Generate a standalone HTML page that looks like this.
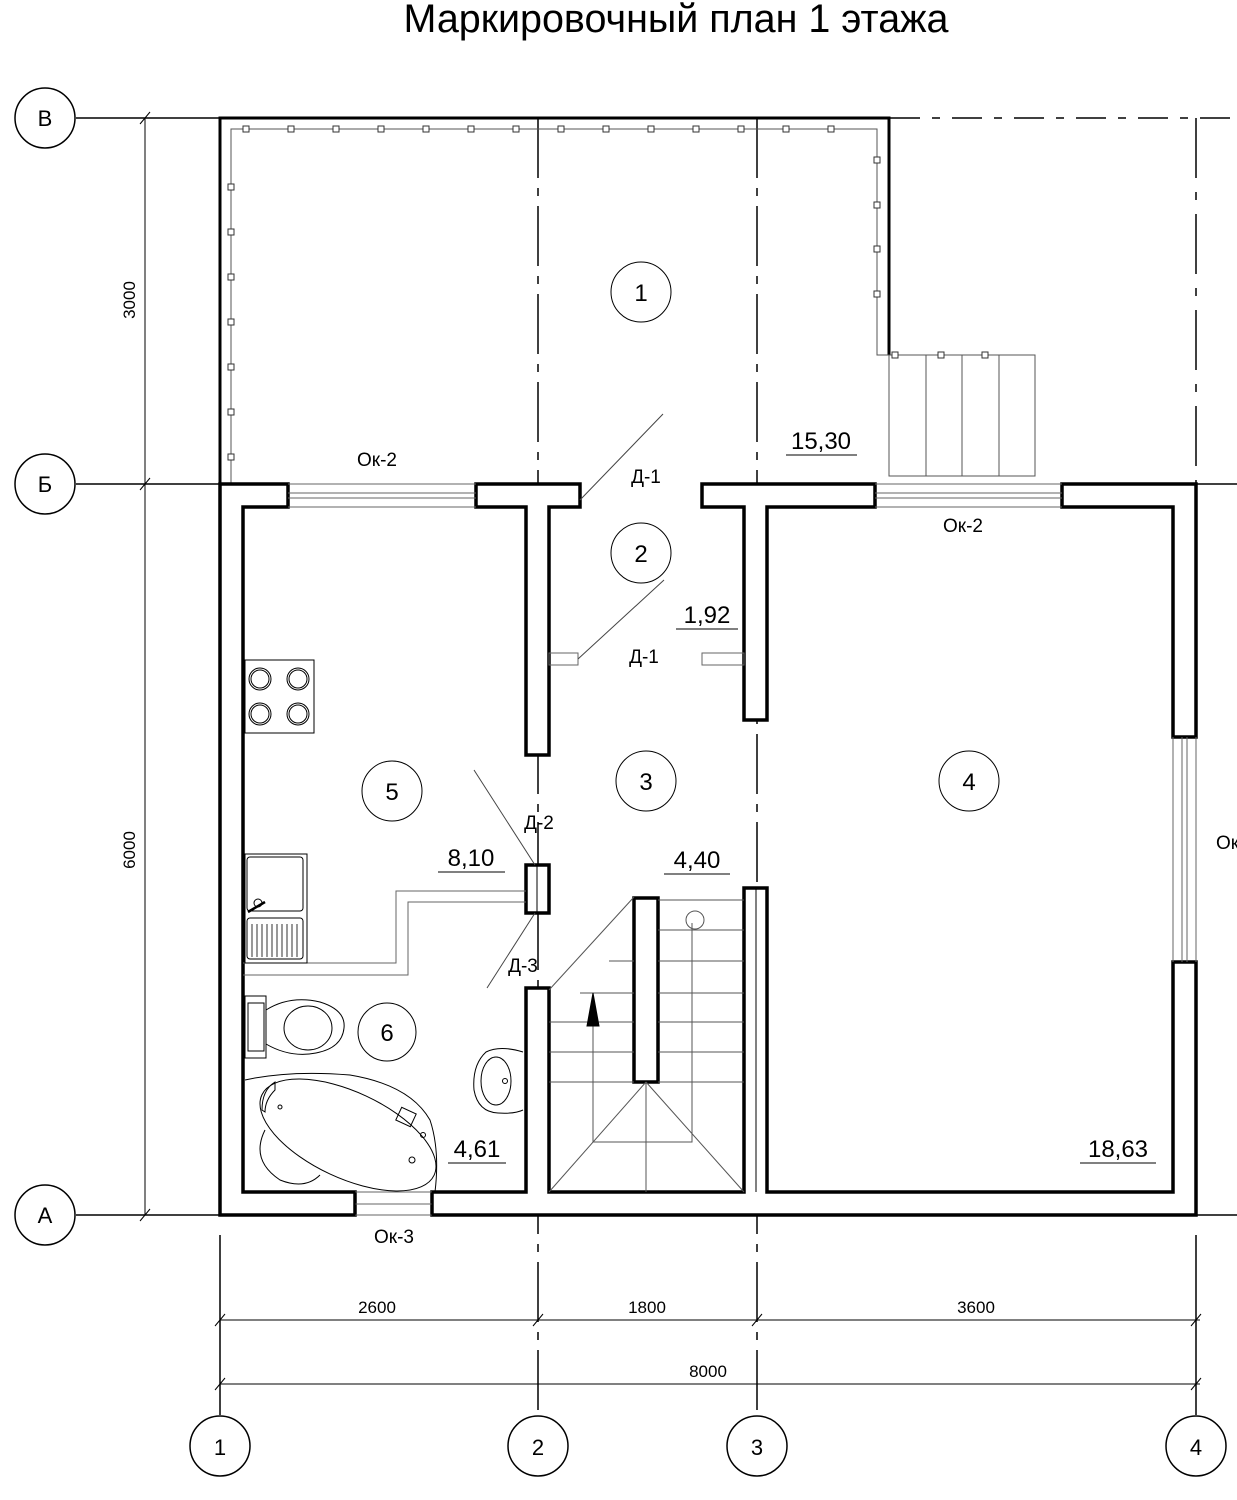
<!DOCTYPE html>
<html><head><meta charset="utf-8"><style>
html,body{margin:0;padding:0;background:#fff;}
svg{display:block}
text{font-family:"Liberation Sans Narrow","Liberation Sans",sans-serif;fill:#000}
</style></head><body>
<svg width="1237" height="1500" viewBox="0 0 1237 1500" xmlns="http://www.w3.org/2000/svg">
<text x="676" y="32" font-size="40" text-anchor="middle" textLength="545" lengthAdjust="spacingAndGlyphs">Маркировочный план 1 этажа</text>

<!-- axis lines -->
<g stroke="#000" stroke-width="1.5" fill="none">
<line x1="76" y1="118" x2="220" y2="118"/>
<line x1="890" y1="118" x2="1237" y2="118" stroke-dasharray="30,12,8,12"/>
<line x1="76" y1="484" x2="220" y2="484"/>
<line x1="1196" y1="484" x2="1237" y2="484"/>
<line x1="76" y1="1215" x2="220" y2="1215"/>
<line x1="1196" y1="1215" x2="1237" y2="1215"/>
<line x1="538" y1="118" x2="538" y2="1415" stroke-dasharray="60,10,8,10"/>
<line x1="757" y1="118" x2="757" y2="1415" stroke-dasharray="60,10,8,10"/>
<line x1="1196" y1="118" x2="1196" y2="484" stroke-dasharray="60,14,8,14"/>
<line x1="220" y1="1235" x2="220" y2="1415"/>
<line x1="1196" y1="1235" x2="1196" y2="1415"/>
<!-- dims -->
<line x1="145" y1="118" x2="145" y2="1215" stroke-width="1"/>
<line x1="140" y1="124" x2="150" y2="112" stroke-width="1"/>
<line x1="140" y1="490" x2="150" y2="478" stroke-width="1"/>
<line x1="140" y1="1221" x2="150" y2="1209" stroke-width="1"/>
<line x1="220" y1="1320" x2="1200" y2="1320" stroke-width="1"/>
<line x1="220" y1="1384" x2="1200" y2="1384" stroke-width="1"/>
<g stroke-width="1">
<line x1="215" y1="1326" x2="225" y2="1314"/><line x1="533" y1="1326" x2="543" y2="1314"/>
<line x1="752" y1="1326" x2="762" y2="1314"/><line x1="1191" y1="1326" x2="1201" y2="1314"/>
<line x1="215" y1="1390" x2="225" y2="1378"/><line x1="1191" y1="1390" x2="1201" y2="1378"/>
</g>
<!-- axis circles -->
<circle cx="45" cy="118" r="30"/><circle cx="45" cy="484" r="30"/><circle cx="45" cy="1215" r="30"/>
<circle cx="220" cy="1446" r="30"/><circle cx="538" cy="1446" r="30"/><circle cx="757" cy="1446" r="30"/><circle cx="1196" cy="1446" r="30"/>
</g>
<g font-size="22" text-anchor="middle">
<text x="45" y="126">В</text><text x="45" y="492">Б</text><text x="45" y="1223">А</text>
<text x="220" y="1455">1</text><text x="538" y="1455">2</text><text x="757" y="1455">3</text><text x="1196" y="1455">4</text>
</g>
<g font-size="17" text-anchor="middle">
<text x="377" y="1313">2600</text><text x="647" y="1313">1800</text><text x="976" y="1313">3600</text>
<text x="708" y="1377">8000</text>
<text transform="translate(135,300) rotate(-90)">3000</text>
<text transform="translate(135,850) rotate(-90)">6000</text>
</g>

<!-- porch -->
<g stroke="#000" fill="none">
<path d="M220,484 V118 H889 V355" stroke-width="3"/>
<path d="M231,484 V129 H877 V355 H1035 V476 H889 V355" stroke-width="1" stroke="#555"/>
<line x1="926" y1="355" x2="926" y2="476" stroke="#555"/>
<line x1="962" y1="355" x2="962" y2="476" stroke="#555"/>
<line x1="999" y1="355" x2="999" y2="476" stroke="#555"/>
</g>
<g fill="#fff" stroke="#333" stroke-width="1">
<rect x="243" y="126" width="6" height="6"/><rect x="288" y="126" width="6" height="6"/><rect x="333" y="126" width="6" height="6"/><rect x="378" y="126" width="6" height="6"/><rect x="423" y="126" width="6" height="6"/><rect x="468" y="126" width="6" height="6"/><rect x="513" y="126" width="6" height="6"/><rect x="558" y="126" width="6" height="6"/><rect x="603" y="126" width="6" height="6"/><rect x="648" y="126" width="6" height="6"/><rect x="693" y="126" width="6" height="6"/><rect x="738" y="126" width="6" height="6"/><rect x="783" y="126" width="6" height="6"/><rect x="828" y="126" width="6" height="6"/>
<rect x="228" y="184" width="6" height="6"/><rect x="228" y="229" width="6" height="6"/><rect x="228" y="274" width="6" height="6"/><rect x="228" y="319" width="6" height="6"/><rect x="228" y="364" width="6" height="6"/><rect x="228" y="409" width="6" height="6"/><rect x="228" y="454" width="6" height="6"/>
<rect x="874" y="157" width="6" height="6"/><rect x="874" y="202" width="6" height="6"/><rect x="874" y="246" width="6" height="6"/><rect x="874" y="291" width="6" height="6"/>
<rect x="892" y="352" width="6" height="6"/><rect x="938" y="352" width="6" height="6"/><rect x="982" y="352" width="6" height="6"/>
</g>

<!-- walls -->
<g stroke="#000" stroke-width="3.5" fill="#fff">
<!-- left wall & top-left -->
<path d="M220,484 H288 V507 H243 V1192 H355 V1215 H220 Z"/>
<!-- T left -->
<path d="M476,484 H580 V507 H549 V755 H526 V507 H476 Z"/>
<!-- T right -->
<path d="M702,484 H875 V507 H767 V720 H744 V507 H702 Z"/>
<!-- top right + right wall upper -->
<path d="M1062,484 H1196 V737 H1173 V507 H1062 Z"/>
<!-- right lower + bottom -->
<path d="M1173,962 H1196 V1215 H432 V1192 H526 V988 H549 V1192 H744 V888 H767 V1192 H1173 Z"/>
<rect x="526" y="865" width="23" height="48"/>
<rect x="634" y="898" width="24" height="184"/>
</g>
<g stroke="#000" stroke-width="1" fill="none">
<line x1="537" y1="865" x2="537" y2="913"/>
<line x1="756" y1="888" x2="756" y2="1192"/>
<!-- windows -->
<path d="M288,484 H476 M288,493 H476 M288,498 H476 M288,507 H476" stroke="#666"/>
<path d="M875,484 H1062 M875,493 H1062 M875,498 H1062 M875,507 H1062" stroke="#666"/>
<path d="M1173,737 V962 M1182,737 V962 M1187,737 V962 M1196,737 V962" stroke="#666"/>
<path d="M355,1192 H432 M355,1204 H432 M355,1215 H432" stroke="#666"/>
<line x1="355" y1="1192" x2="355" y2="1215"/><line x1="432" y1="1192" x2="432" y2="1215"/>
<!-- doors -->
<line x1="580" y1="500" x2="663" y2="414" stroke="#444"/>
<rect x="549" y="653" width="29" height="12" stroke="#666"/>
<line x1="578" y1="659" x2="664" y2="580" stroke="#444"/>
<rect x="702" y="653" width="42" height="12" stroke="#666"/>
<line x1="474" y1="770" x2="535" y2="865" stroke="#444"/>
<line x1="535" y1="913" x2="487" y2="988" stroke="#444"/>
<!-- partition -->
<path d="M243,963 H396 V891 H526 M243,975 H408 V902 H526" stroke="#666"/>
<!-- stairs -->
<g stroke="#555">
<line x1="549" y1="990" x2="634" y2="897"/>
<path d="M658,900 H744"/>
<path d="M658,930 H744 M609,961 H634 M658,961 H744 M580,993 H634 M658,993 H744 M549,1022 H634 M658,1022 H744 M549,1052 H634 M658,1052 H744 M549,1082 H634 M658,1082 H744"/>
<line x1="646" y1="1082" x2="646" y2="1192"/>
<line x1="646" y1="1082" x2="549" y2="1192"/>
<line x1="646" y1="1082" x2="744" y2="1192"/>
<path d="M593,1010 V1142 H692 V923"/>
<circle cx="695" cy="920" r="9"/>
</g>
<polygon points="593,993 587,1026 599,1026" fill="#000"/>
<!-- stove -->
<rect x="245" y="660" width="69" height="73"/>
<circle cx="260" cy="679" r="11"/><circle cx="260" cy="679" r="9"/>
<circle cx="298" cy="679" r="11"/><circle cx="298" cy="679" r="9"/>
<circle cx="260" cy="714" r="11"/><circle cx="260" cy="714" r="9"/>
<circle cx="298" cy="714" r="11"/><circle cx="298" cy="714" r="9"/>
<!-- sink -->
<rect x="245" y="854" width="62" height="109"/>
<rect x="247" y="857" width="56" height="54" rx="3"/>
<rect x="247" y="918" width="56" height="41" rx="3"/>
<path d="M252,924 V957 M257,924 V957 M262,924 V957 M267,924 V957 M272,924 V957 M277,924 V957 M282,924 V957 M287,924 V957 M292,924 V957 M297,924 V957" stroke-width=".8"/>
<path d="M248,912 L265,902" stroke-width="2.5"/><circle cx="258" cy="903" r="4"/>
<!-- toilet -->
<rect x="245" y="996" width="21" height="62"/>
<rect x="248" y="1003" width="16" height="48"/>
<path d="M266,1010 Q290,995 320,1002 Q346,1010 344,1028 Q342,1048 316,1053 Q290,1058 266,1044"/>
<ellipse cx="308" cy="1028" rx="24" ry="22"/>
<!-- washbasin -->
<path d="M523,1052 Q500,1045 486,1052 Q472,1065 474,1090 Q478,1112 498,1113 Q515,1114 523,1110"/>
<ellipse cx="496" cy="1081" rx="15" ry="24"/>
<circle cx="505" cy="1081" r="2.5"/>
<!-- bath -->
<path d="M245,1080 Q290,1070 350,1075 Q410,1085 430,1120 Q440,1150 435,1192"/>
<ellipse cx="348" cy="1135" rx="95" ry="43" transform="rotate(25 348 1135)"/>
<path d="M265,1130 Q250,1160 280,1180 Q305,1190 320,1175"/>
<path d="M262,1110 Q262,1090 275,1082 L275,1090 Q265,1100 265,1112 Z"/>
<rect x="398" y="1110" width="16" height="14" transform="rotate(25 406 1117)"/>
<circle cx="412" cy="1160" r="3"/><circle cx="280" cy="1107" r="2"/>
<circle cx="423" cy="1135" r="2.5"/>
<!-- room circles -->
<circle cx="641" cy="292" r="30"/><circle cx="641" cy="553" r="30"/>
<circle cx="646" cy="781" r="30"/><circle cx="392" cy="791" r="30"/>
<circle cx="969" cy="781" r="30"/><circle cx="387" cy="1032" r="29"/>
<!-- area underlines -->
<line x1="786" y1="455" x2="857" y2="455"/>
<line x1="676" y1="629" x2="738" y2="629"/>
<line x1="438" y1="872" x2="505" y2="872"/>
<line x1="664" y1="874" x2="730" y2="874"/>
<line x1="448" y1="1163" x2="506" y2="1163"/>
<line x1="1080" y1="1163" x2="1156" y2="1163"/>
</g>
<g font-size="24" text-anchor="middle">
<text x="641" y="301">1</text><text x="641" y="562">2</text><text x="646" y="790">3</text>
<text x="392" y="800">5</text><text x="969" y="790">4</text><text x="387" y="1041">6</text>
<text x="821" y="449">15,30</text><text x="707" y="623">1,92</text><text x="471" y="866">8,10</text>
<text x="697" y="868">4,40</text><text x="477" y="1157">4,61</text><text x="1118" y="1157">18,63</text>
</g>
<g font-size="19" text-anchor="middle">
<text x="377" y="466">Ок-2</text><text x="963" y="532">Ок-2</text><text x="394" y="1243">Ок-3</text>
<text x="646" y="483">Д-1</text><text x="644" y="663">Д-1</text>
<text x="539" y="829">Д-2</text><text x="523" y="972">Д-3</text>
<text x="1216" y="849" text-anchor="start">Ок</text>
</g>
</svg>
</body></html>
